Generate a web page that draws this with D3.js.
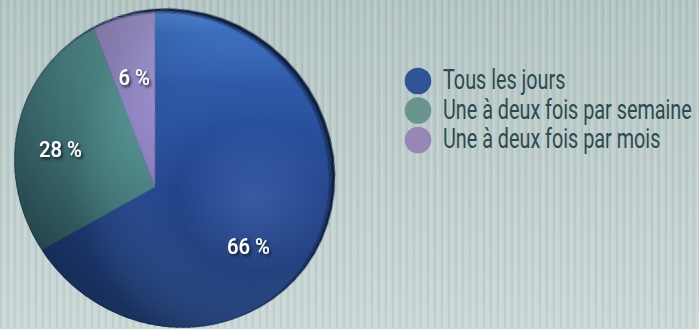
<!DOCTYPE html>
<html>
<head>
<meta charset="utf-8">
<script src="https://cdn.jsdelivr.net/npm/d3@7/dist/d3.min.js"></script>
<style>
  html, body { margin: 0; padding: 0; overflow: hidden; background: #bccbca; }
  #wrap { position: relative; width: 699px; height: 329px; overflow: hidden; }
  #wrap > svg, #pieLayer { position: absolute; left: 0; top: 0; }
  #pieLayer { width: 699px; height: 329px; overflow: visible; }
  #pie { position: absolute; left: -80px; top: -80px; overflow: visible; }
  text { font-family: Roboto, "Open Sans", "DejaVu Sans", sans-serif; }
</style>
</head>
<body>
<div id="wrap">
  <svg id="bg" width="699" height="329"></svg>
  <div id="pieLayer"><svg id="pie" width="860" height="490"></svg></div>
  <svg id="fg" width="699" height="329"></svg>
</div>
<script>
// Fréquence d'utilisation
const categories = ["Tous les jours", "Une à deux fois par semaine", "Une à deux fois par mois"];
const values = [66, 28, 6];
const valueLabels = ["66 %", "28 %", "6 %"];
const colors = ["#2f5597", "#6a958f", "#9787b5"];

const W = 699, H = 329;
const CX = 155, CY = 187;       // pie centre on screen
const R = 161;                   // disc radius
const TILT = -22.2;              // tilt about the lower-right diagonal (deg)
const PERSP = 380;               // perspective distance (px)
const PAD = 80;                  // room around the disc inside its own svg

const bg = d3.select("#bg");
const defs = bg.append("defs");

// ---- striped backdrop ----
const bgGrad = defs.append("linearGradient").attr("id", "bgGrad")
  .attr("x1", 0).attr("y1", 0).attr("x2", 0).attr("y2", 1);
bgGrad.append("stop").attr("offset", 0).attr("stop-color", "#b4c5c3");
bgGrad.append("stop").attr("offset", 1).attr("stop-color", "#cbd8d7");
const pat = defs.append("pattern").attr("id", "stripes")
  .attr("patternUnits", "userSpaceOnUse").attr("width", 7).attr("height", 10);
pat.append("rect").attr("x", 0).attr("width", 2).attr("height", 10).attr("fill", "rgba(60,90,90,0.07)");
pat.append("rect").attr("x", 3).attr("width", 2).attr("height", 10).attr("fill", "rgba(255,255,255,0.10)");
bg.append("rect").attr("width", W).attr("height", H).attr("fill", "url(#bgGrad)");
bg.append("rect").attr("width", W).attr("height", H).attr("fill", "url(#stripes)");

// ---- legend (condensed lettering) ----
const legend = bg.append("g").attr("transform", "translate(418,81)");
const legendRows = legend.selectAll("g").data(categories).join("g")
  .attr("transform", (d, i) => `translate(0,${i * 29.5})`);
legendRows.append("circle").attr("r", 13.3).attr("fill", (d, i) => colors[i]);
const legendTexts = legendRows.append("text")
  .attr("font-size", 27).attr("fill", "#2c4a4f").text(d => d);
const longest = d3.max(legendTexts.nodes(), n => n.getComputedTextLength());
const legendScale = 249 / longest;
legendTexts.attr("transform", `translate(25,8) scale(${legendScale},1)`);

// ---- tilted pie ----
const a = TILT * Math.PI / 180;
const c = Math.cos(a), s = Math.sin(a);
// angle offset so that the first slice edge appears vertical on screen
const startOffset = Math.atan((1 - c) / (1 + c));

d3.select("#pieLayer")
  .style("transform-origin", `${CX}px ${CY}px`)
  .style("transform", `perspective(${PERSP}px) rotate3d(1,1,0,${TILT}deg)`);

const pieSvg = d3.select("#pie");
const pdefs = pieSvg.append("defs");
const g = pieSvg.append("g").attr("transform", `translate(${CX + PAD},${CY + PAD})`);

function linGrad(id, stops) {
  const gr = pdefs.append("linearGradient").attr("id", id)
    .attr("gradientUnits", "userSpaceOnUse")
    .attr("x1", 0).attr("y1", -R).attr("x2", 0).attr("y2", R);
  stops.forEach(([o, col]) => gr.append("stop").attr("offset", o).attr("stop-color", col));
}
linGrad("gBlue", [[0, "#62a2f4"], [0.06, "#3f79d0"], [0.2, "#2b56a6"], [0.5, "#23448b"], [1, "#213f72"]]);
linGrad("gTeal", [[0, "#70bbb0"], [0.25, "#5a9e96"], [0.55, "#457d78"], [1, "#2e5855"]]);
linGrad("gPurple", [[0, "#c2b2ec"], [0.2, "#a896d4"], [0.5, "#8a76b4"], [1, "#705c98"]]);
const fills = ["url(#gBlue)", "url(#gTeal)", "url(#gPurple)"];

const shade = pdefs.append("radialGradient").attr("id", "shade")
  .attr("gradientUnits", "userSpaceOnUse")
  .attr("cx", R * 0.6).attr("cy", R * 0.05).attr("r", R * 1.55);
shade.append("stop").attr("offset", 0).attr("stop-color", "#8fb4ff").attr("stop-opacity", 0.2);
shade.append("stop").attr("offset", 0.3).attr("stop-color", "#8fb4ff").attr("stop-opacity", 0.0);
shade.append("stop").attr("offset", 0.75).attr("stop-color", "#050c24").attr("stop-opacity", 0.26);
shade.append("stop").attr("offset", 1).attr("stop-color", "#050c24").attr("stop-opacity", 0.42);

// disc thickness seen on the near (upper-right) side
const rimDx = 3.6, rimDy = -2.2;
g.append("circle").attr("cx", rimDx).attr("cy", rimDy).attr("r", R)
  .attr("fill", "#0c1c3c");
g.append("circle").attr("cx", rimDx * 0.4).attr("cy", rimDy * 0.4).attr("r", R)
  .attr("fill", "#1f3868");

const pie = d3.pie().sort(null).value(d => d)
  .startAngle(startOffset).endAngle(startOffset + 2 * Math.PI);
const arcs = pie(values);
const arc = d3.arc().innerRadius(0).outerRadius(R);

g.selectAll("path.slice").data(arcs).join("path")
  .attr("class", "slice").attr("d", arc).attr("fill", (d, i) => fills[i]);
g.append("circle").attr("r", R).attr("fill", "url(#shade)");
g.append("circle").attr("r", R - 0.5).attr("fill", "none")
  .attr("stroke", "rgba(10,20,45,0.45)").attr("stroke-width", 1);

// ---- value labels, placed with the same tilt + perspective ----
function project(x, y) {
  const dot = (x + y) / 2 * (1 - c);
  const xr = x * c + dot, yr = y * c + dot;
  const zr = (y - x) / Math.SQRT2 * s;
  const f = PERSP / (PERSP - zr);
  return [CX + xr * f, CY + yr * f];
}
const fg = d3.select("#fg");
const fdefs = fg.append("defs");
const sh = fdefs.append("filter").attr("id", "txtShadow")
  .attr("x", "-30%").attr("y", "-30%").attr("width", "160%").attr("height", "160%");
sh.append("feDropShadow").attr("dx", 2).attr("dy", 2).attr("stdDeviation", 1.4)
  .attr("flood-color", "#0a1428").attr("flood-opacity", 0.85);

const labelR = R * 0.67;
const valTexts = fg.selectAll("text.val").data(arcs).join("text")
  .attr("class", "val")
  .attr("text-anchor", "middle").attr("dy", "0.36em")
  .attr("font-size", 22.5).attr("font-weight", 500).attr("fill", "#ffffff")
  .attr("filter", "url(#txtShadow)")
  .text((d, i) => valueLabels[i]);
const valScale = 43 / valTexts.node().getComputedTextLength();
valTexts.attr("transform", d => {
  const m = (d.startAngle + d.endAngle) / 2;
  const [px, py] = project(labelR * Math.sin(m), -labelR * Math.cos(m));
  return `translate(${px},${py}) scale(${valScale},1)`;
});
</script>
</body>
</html>
